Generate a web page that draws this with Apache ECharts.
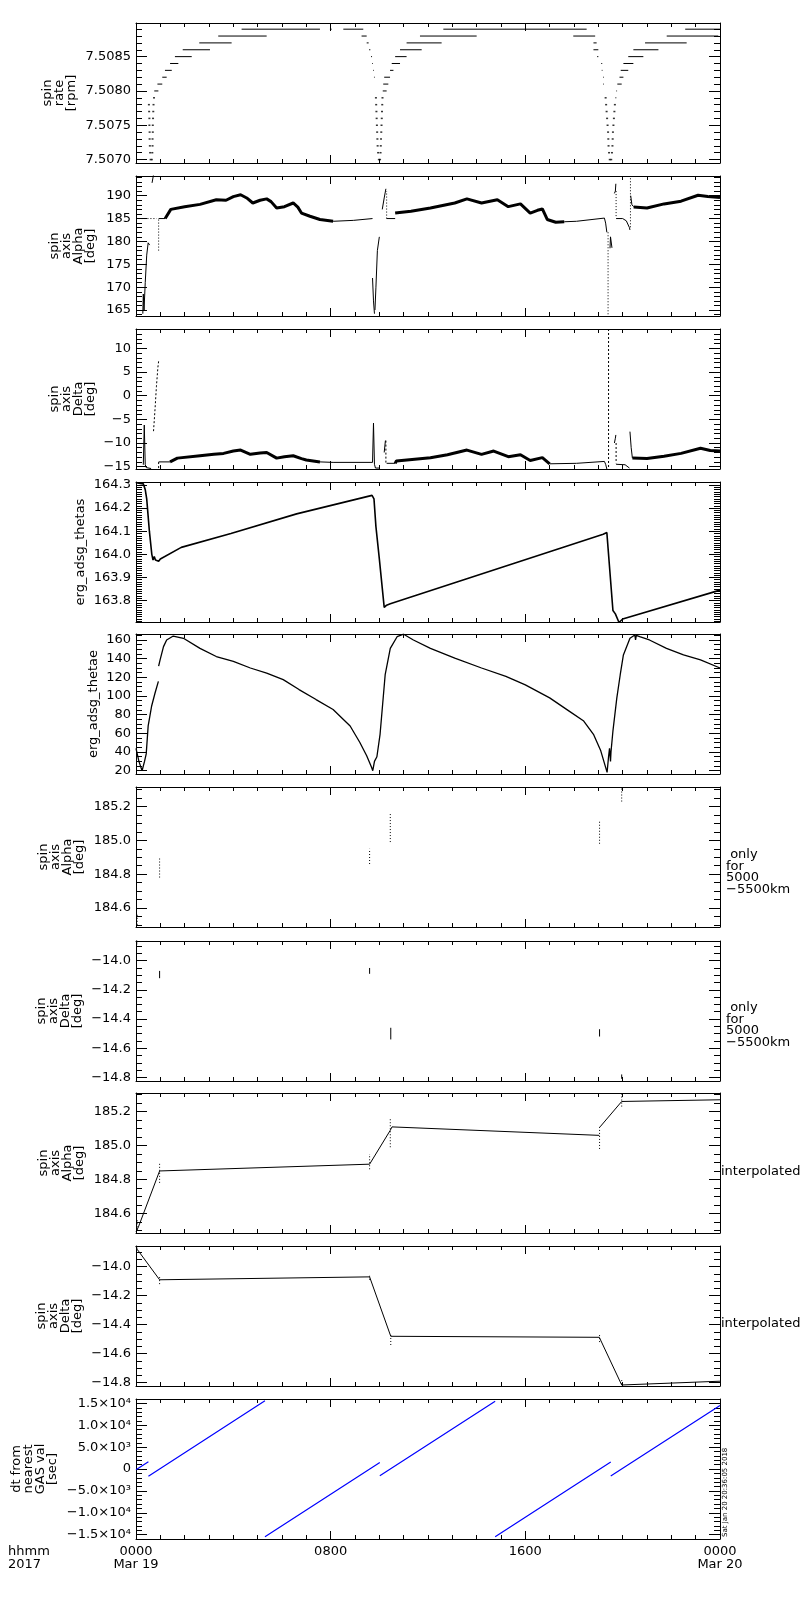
<!DOCTYPE html>
<html>
<head>
<meta charset="utf-8">
<script src="https://cdn.jsdelivr.net/npm/echarts@6/dist/echarts.min.js"></script>
<style>
html, body { margin: 0; padding: 0; background: #fff; }
#main { width: 800px; height: 1600px; }
</style>
</head>
<body>
<div id="main"></div>
<script>
// time axis: hours after 0000 UT Mar 19 2017
var hourTicks = [0, 8, 16, 24];
var hourLabels = ['0000\nMar 19', '0800', '1600', '0000\nMar 20'];

// spin rate [rpm]: quantised steps, [t start, t end, level]
var rateDashes = [
  [0.75,0.92,7.5080],[0.88,1.08,7.5081],[1.08,1.26,7.5082],[1.19,1.47,7.5083],[1.40,1.74,7.5084],
  [1.60,2.29,7.5085],[1.92,3.04,7.5086],[2.60,3.93,7.5087],[3.38,5.37,7.5088],[4.34,7.56,7.5089],
  [7.97,8.04,7.5089],[8.52,9.34,7.5089],
  [9.27,9.48,7.5088],[9.48,9.56,7.5087],[9.58,9.63,7.5086],[9.66,9.70,7.5085],[9.71,9.74,7.5084],
  [9.75,9.78,7.5083],[9.78,9.81,7.5082],[9.81,9.83,7.5081],[9.83,9.85,7.5080],
  [10.14,10.30,7.5080],[10.16,10.37,7.5081],[10.20,10.44,7.5082],[10.44,10.58,7.5083],[10.51,10.85,7.5084],
  [10.65,11.12,7.5085],[10.85,11.74,7.5086],[11.12,12.56,7.5087],[11.67,14.00,7.5088],[12.63,18.52,7.5089],
  [17.97,18.87,7.5088],[18.80,18.93,7.5087],[18.80,19.00,7.5086],[18.95,19.00,7.5085],[19.12,19.16,7.5084],
  [19.14,19.17,7.5083],[19.20,19.23,7.5082],[19.20,19.23,7.5081],[19.26,19.28,7.5080],
  [19.70,19.74,7.5079],[19.74,19.77,7.5080],[19.78,19.96,7.5081],[19.87,20.03,7.5082],[19.92,20.23,7.5083],
  [20.03,20.44,7.5084],[20.23,20.85,7.5085],[20.44,21.47,7.5086],[20.92,22.63,7.5087],[21.81,23.93,7.5088],
  [22.57,24.00,7.5089]
];
var rateDots = [
  [0.53,7.5078],[0.54,7.5077],[0.55,7.5076],[0.55,7.5075],[0.56,7.5074],[0.56,7.5073],[0.57,7.5072],[0.58,7.5071],
  [0.60,7.5070],[0.65,7.5070],[0.67,7.5071],[0.68,7.5072],[0.68,7.5073],[0.69,7.5074],[0.69,7.5075],[0.70,7.5076],
  [0.71,7.5077],[0.72,7.5078],[0.74,7.5079],
  [9.86,7.5079],[9.87,7.5078],[9.88,7.5077],[9.89,7.5076],[9.90,7.5075],[9.91,7.5074],[9.92,7.5073],[9.93,7.5072],
  [9.95,7.5071],[9.98,7.5070],[10.03,7.5070],[10.05,7.5071],[10.06,7.5072],[10.07,7.5073],[10.08,7.5074],
  [10.09,7.5075],[10.10,7.5076],[10.11,7.5077],[10.12,7.5078],[10.13,7.5079],
  [19.30,7.5079],[19.32,7.5078],[19.34,7.5077],[19.36,7.5076],[19.38,7.5075],[19.40,7.5074],[19.41,7.5073],
  [19.42,7.5072],[19.44,7.5071],[19.47,7.5070],[19.53,7.5070],[19.56,7.5071],[19.58,7.5072],[19.59,7.5073],
  [19.60,7.5074],[19.62,7.5075],[19.64,7.5076],[19.66,7.5077],[19.68,7.5078]
];

// spin axis Alpha [deg]; null = break in the trace
var alphaLine = [
  [0.28,164.2],[0.30,168.5],[0.33,165.0],[0.38,171],[0.44,177],[0.50,179.7],[0.56,179.2], null,
  [0.66,192.8],[0.72,194.6], null,
  [0.93,185],[1.2,185], null,
  [8.1,184.4],[8.93,184.6],[9.72,185.0], null,
  [9.72,172],[9.76,167],[9.80,164.2], null,
  [9.82,165],[9.86,170],[9.92,178],[10.0,181], null,
  [10.12,187],[10.2,189.5],[10.27,191.5], null,
  [10.3,185],[10.65,185], null,
  [17.6,184.3],[18.1,184.4],[19.25,185.1],[19.3,184],[19.35,182], null,
  [19.48,178.5],[19.5,181],[19.53,181],[19.56,178.6], null,
  [19.66,190.5],[19.7,191],[19.72,192.6], null,
  [19.73,185],[20.0,185],[20.15,184.5],[20.28,183],[20.3,182.5], null,
  [20.33,190],[20.38,188],[20.45,187.6]
];
var alphaBand = [
  [1.2,185],[1.43,187],[2.0,187.6],[2.63,188.1],[3.3,189.1],[3.7,189.0],[4.0,189.8],[4.3,190.2],
  [4.55,189.5],[4.8,188.4],[5.1,189.0],[5.37,189.3],[5.55,188.7],[5.78,187.3],[6.1,187.6],[6.46,188.4],
  [6.65,187.5],[6.8,186.2],[7.15,185.5],[7.56,184.8],[8.1,184.4], null,
  [10.65,186.2],[11.3,186.6],[12.1,187.3],[13.1,188.4],[13.6,189.3],[14.2,188.4],[14.85,189.1],[15.3,187.6],
  [15.8,188.2],[16.2,186.2],[16.5,186.8],[16.7,187.1],[16.9,184.8],[17.25,184.2],[17.6,184.3], null,
  [20.45,187.5],[21.0,187.3],[21.7,188.2],[22.4,188.8],[23.1,190.1],[23.5,189.8],[24,189.6]
];
var alphaDotted = [
  [0.1,185],[0.85,185], null,
  [0.93,178],[0.93,185], null,
  [10.3,185],[10.3,191], null,
  [19.4,182],[19.4,163.7], null,
  [19.73,191],[19.73,185.5], null,
  [20.32,193.8],[20.32,183]
];

// spin axis Delta [deg]
var deltaLine = [
  [0.30,-14.6],[0.34,-6.2],[0.38,-14.6],[0.42,-15.2],[0.62,-15.4], null,
  [0.93,-14],[1.4,-14], null,
  [7.56,-14.0],[8.1,-14.1],[9.72,-14.1],[9.76,-5.8],[9.80,-14.5],[9.84,-15.3],[10.0,-15.3], null,
  [10.2,-12],[10.25,-9.5], null,
  [10.3,-14.3],[10.65,-14.3], null,
  [17.0,-14.4],[18.1,-14.3],[19.25,-13.9],[19.3,-14.5],[19.35,-15.5], null,
  [19.66,-10],[19.7,-9],[19.72,-8.3], null,
  [19.73,-14.5],[20.1,-14.6],[20.28,-15.3], null,
  [20.3,-7.6],[20.35,-11],[20.4,-13.2]
];
var deltaBand = [
  [1.4,-14],[1.7,-13.2],[2.63,-12.7],[3.2,-12.4],[3.6,-12.2],[4.0,-11.7],[4.3,-11.5],[4.7,-12.4],
  [5.1,-12.1],[5.37,-12.0],[5.78,-13.2],[6.1,-12.9],[6.46,-12.7],[6.8,-13.3],[7.0,-13.6],[7.56,-14.0], null,
  [10.65,-14.3],[10.7,-13.8],[12.1,-13.1],[12.8,-12.5],[13.6,-11.5],[14.2,-12.4],[14.7,-11.7],[15.3,-12.9],
  [15.8,-12.5],[16.2,-13.7],[16.7,-13.1],[17.0,-14.4], null,
  [20.4,-13.2],[21.0,-13.3],[21.7,-12.8],[22.4,-12.2],[23.2,-11.1],[23.6,-11.6],[24,-11.7]
];
var deltaDotted = [
  [0.72,-7.5],[0.78,-3],[0.84,2],[0.9,6],[0.93,7.3], null,
  [0.93,-15.3],[0.93,-13.8], null,
  [10.27,-9.5],[10.27,-14.3], null,
  [19.42,14.1],[19.42,-15.5], null,
  [19.73,-10],[19.73,-14.3]
];

// erg_adsg_thetas
var thetasPts = [
  [0,164.31],[0.3,164.305],[0.38,164.28],[0.44,164.24],[0.55,164.1],[0.65,164.0],[0.7,163.975],[0.75,163.99],
  [0.8,163.975],[0.93,163.97],[1.0,163.98],[1.86,164.03],[3.9,164.09],[6.6,164.175],[9.7,164.255],[9.78,164.24],
  [9.86,164.12],[10.0,163.98],[10.07,163.975],[10.2,163.77],[10.3,163.78],[10.45,163.786],[19.2,164.087],
  [19.35,164.094],[19.6,163.757],[19.65,163.75],[19.7,163.742],[19.85,163.705],[20.0,163.72],[24,163.845]
];

// erg_adsg_thetae
var thetaePts = [
  [0,44],[0.12,30],[0.25,20],[0.35,30],[0.42,38],[0.5,68],[0.64,89],[0.78,103],[0.92,115.7], null,
  [0.93,132],[0.99,138.7],[1.13,152.9],[1.26,160],[1.53,164.2],[1.95,161.8],[2.63,151],[3.3,142.3],[4.0,137],
  [4.7,130],[5.37,124.6],[6.05,117.5],[6.7,106.9],[7.4,96.2],[8.1,85.6],[8.8,67.9],[9.2,50.2],[9.48,36],
  [9.68,23.7],[9.73,20],[9.8,30],[9.9,35],[10.03,59],[10.24,122.8],[10.45,151],[10.73,163.5],[11.0,166.2],
  [11.4,160],[12.1,151],[13.1,140.5],[14.2,130],[15.2,121],[16.0,112],[17.0,98],[17.8,83.8],[18.4,73.2],
  [18.8,59],[19.1,41.3],[19.3,23.6],[19.36,18.3],[19.42,35],[19.46,44],[19.5,30],[19.52,40],[19.6,62.5],
  [19.76,98],[19.9,122.8],[20.03,144],[20.3,161.8],[20.5,165.3],[20.53,160],[20.56,165],[20.7,163.5],
  [21.1,160],[21.8,151],[22.5,144],[23.2,138.7],[24,130]
];

// raw values at 5000-5500 km: [t, low, high]
var gasAlphaMarks = [[0.05,184.50,184.56],[0.97,184.78,184.90],[9.6,184.86,184.95],[10.45,184.99,185.16],[19.05,184.98,185.12],[19.96,185.23,185.31]];
var gasDeltaMarks = [[0.03,-13.89,-13.86],[0.97,-14.12,-14.07],[9.6,-14.09,-14.05],[10.47,-14.54,-14.46],[19.05,-14.52,-14.47],[19.96,-14.81,-14.78]];

// interpolated spin axis
var alphaInterp = [[0,184.49],[0.1,184.52],[0.97,184.85],[9.6,184.89],[10.45,185.09],[10.52,185.11],[19.04,185.06], null,
  [19.07,185.11],[19.96,185.26],[24,185.27]];
var deltaInterp = [[0,-13.86],[0.05,-13.88],[0.97,-14.09],[9.6,-14.07],[10.47,-14.48],[19.04,-14.487],[19.96,-14.816],[24,-14.79]];

// dt from nearest GAS value [sec]
var dtSegments = [[0,-180],[0.51,1650], null, [0.51,-1650],[5.3,15600], null, [5.3,-15500],[10.02,1500], null,
  [10.02,-1550],[14.76,15500], null, [14.76,-15500],[19.51,1580], null, [19.51,-1620],[24,14540]];

// y tick values per panel
var rateTicks = [7.5070, 7.5075, 7.5080, 7.5085];
var alphaTicks = [165, 170, 175, 180, 185, 190];
var deltaTicks = [-15, -10, -5, 0, 5, 10];
var thetasTicks = [163.8, 163.9, 164.0, 164.1, 164.2, 164.3];
var thetaeTicks = [20, 40, 60, 80, 100, 120, 140, 160];
var gasAlphaTicks = [184.6, 184.8, 185.0, 185.2];
var gasDeltaTicks = [-14.8, -14.6, -14.4, -14.2, -14.0];
var dtTicks = [-15000, -10000, -5000, 0, 5000, 10000, 15000];
var dtTickLabels = ['\u22121.5\u00d710\u2074', '\u22121.0\u00d710\u2074', '\u22125.0\u00d710\u00b3', '0',
  '5.0\u00d710\u00b3', '1.0\u00d710\u2074', '1.5\u00d710\u2074'];

// ---- layout ----
var FONT = '"DejaVu Sans", sans-serif';
var panels = [
  {top: 23,   min: 7.50695, max: 7.50899, ticks: rateTicks, minor: 0.0001, dec: 4, title: 'spin\nrate\n[rpm]', tx: 60},
  {top: 176,  min: 163.7, max: 194.3, ticks: alphaTicks, minor: 1, dec: 0, title: 'spin\naxis\nAlpha\n[deg]', tx: 73},
  {top: 329,  min: -15.5, max: 14.1, ticks: deltaTicks, minor: 1, dec: 0, title: 'spin\naxis\nDelta\n[deg]', tx: 73},
  {top: 482,  min: 163.707, max: 164.313, ticks: thetasTicks, minor: 0.01, dec: 1, title: 'erg_adsg_thetas', tx: 81},
  {top: 634,  min: 16.5, max: 166.4, ticks: thetaeTicks, minor: 5, dec: 0, title: 'erg_adsg_thetae', tx: 94},
  {top: 787,  min: 184.487, max: 185.316, ticks: gasAlphaTicks, minor: 0.05, dec: 1, title: 'spin\naxis\nAlpha\n[deg]', tx: 62},
  {top: 941,  min: -14.825, max: -13.865, ticks: gasDeltaTicks, minor: 0.05, dec: 1, title: 'spin\naxis\nDelta\n[deg]', tx: 60},
  {top: 1093, min: 184.484, max: 185.31, ticks: gasAlphaTicks, minor: 0.05, dec: 1, title: 'spin\naxis\nAlpha\n[deg]', tx: 62},
  {top: 1246, min: -14.823, max: -13.857, ticks: gasDeltaTicks, minor: 0.05, dec: 1, title: 'spin\naxis\nDelta\n[deg]', tx: 60},
  {top: 1399, min: -16000, max: 16000, ticks: dtTicks, minor: 1000, labels: dtTickLabels, title: 'dt from\nnearest\nGAS val\n[sec]', tx: 35}
];
var PH = 140;

function withGaps(arr) {
  return arr.map(function (p) { return p === null ? [null, null] : p; });
}
function dashData(list) {
  var out = [];
  list.forEach(function (d) { out.push([d[0], d[2]], [d[1], d[2]], [null, null]); });
  return out;
}
function markData(list) {
  var out = [];
  list.forEach(function (d) { out.push([d[0], d[1]], [d[0], d[2]], [null, null]); });
  return out;
}

var black = '#000';
var grids = [], xAxes = [], yAxes = [], series = [], graphics = [];

panels.forEach(function (p, i) {
  grids.push({left: 136, width: 584, top: p.top, height: PH});
  var last = i === panels.length - 1;
  ['bottom', 'top'].forEach(function (pos) {
    xAxes.push({
      gridIndex: i, type: 'value', position: pos, min: 0, max: 24, interval: 8,
      axisLine: {show: true, onZero: false, lineStyle: {color: black, width: 1}},
      axisTick: {show: true, inside: true, length: 8, lineStyle: {color: black}},
      minorTick: {show: true, splitNumber: 8, length: 4, lineStyle: {color: black}},
      splitLine: {show: false}, minorSplitLine: {show: false},
      axisLabel: {
        show: last && pos === 'bottom', color: black, fontFamily: FONT, fontSize: 13, lineHeight: 13, margin: 6,
        formatter: function (v) { var k = hourTicks.indexOf(v); return k < 0 ? '' : hourLabels[k]; }
      }
    });
  });
  // labelled ticks fall on multiples of step (ticks are not counted from min here)
  var step = p.ticks[1] - p.ticks[0];
  var fmt = p.labels ? function (v) {
    var k = p.ticks.indexOf(Math.round(v)); return k < 0 ? '' : p.labels[k];
  } : function (v) { return v.toFixed(p.dec).replace('-', '\u2212'); };
  ['left', 'right'].forEach(function (pos) {
    yAxes.push({
      gridIndex: i, type: 'value', position: pos, min: p.min, max: p.max,
      minInterval: step, maxInterval: step, splitNumber: 5,
      axisLine: {show: true, onZero: false, lineStyle: {color: black, width: 1}},
      axisTick: {show: true, inside: true, length: 11, lineStyle: {color: black, width: 1}},
      minorTick: {show: true, splitNumber: Math.round(step / p.minor), length: 6, lineStyle: {color: black, width: 1}},
      splitLine: {show: false}, minorSplitLine: {show: false},
      axisLabel: {show: pos === 'left', showMinLabel: false, showMaxLabel: false, formatter: fmt, color: black,
        fontFamily: FONT, fontSize: 13, margin: 5}
    });
  });
  graphics.push({
    type: 'text', x: p.tx, y: p.top + PH / 2, rotation: Math.PI / 2,
    style: {text: p.title, fill: black, font: '13px ' + FONT, align: 'center', verticalAlign: 'middle', lineHeight: 12}
  });
});

function lineSeries(panel, data, color, width, dash) {
  return {
    type: 'line', xAxisIndex: panel * 2, yAxisIndex: panel * 2, data: data,
    showSymbol: false, symbol: 'none', connectNulls: false, silent: true,
    lineStyle: {color: color, width: width, type: dash || 'solid'}
  };
}

series.push(lineSeries(0, dashData(rateDashes), black, 1));
series.push({type: 'scatter', xAxisIndex: 0, yAxisIndex: 0, data: rateDots, symbol: 'rect',
  symbolSize: [2, 1.5], itemStyle: {color: black}, silent: true});
series.push(lineSeries(1, withGaps(alphaBand), black, 3));
series.push(lineSeries(1, withGaps(alphaLine), black, 1));
series.push(lineSeries(1, withGaps(alphaDotted), black, 1, [1, 2]));
series.push(lineSeries(2, withGaps(deltaBand), black, 3));
series.push(lineSeries(2, withGaps(deltaLine), black, 1));
series.push(lineSeries(2, withGaps(deltaDotted), black, 1, [2, 2]));
series.push(lineSeries(3, thetasPts, black, 1.6));
series.push(lineSeries(4, withGaps(thetaePts), black, 1.3));
series.push(lineSeries(5, markData(gasAlphaMarks), black, 1, [1, 2]));
series.push(lineSeries(6, markData(gasDeltaMarks), black, 1));
series.push(lineSeries(7, withGaps(alphaInterp), black, 1));
series.push(lineSeries(7, markData(gasAlphaMarks), black, 1, [1, 2]));
series.push(lineSeries(8, withGaps(deltaInterp), black, 1));
series.push(lineSeries(8, markData(gasDeltaMarks), black, 1, [1, 2]));
series.push(lineSeries(9, withGaps(dtSegments), '#0000ff', 1.2));

var sideNote = ' only\nfor\n5000\n\u22125500km';
graphics.push(
  {type: 'text', x: 726, y: 849, style: {text: sideNote, fill: black, font: '13px ' + FONT, align: 'left', verticalAlign: 'top', lineHeight: 11.5}},
  {type: 'text', x: 726, y: 1002, style: {text: sideNote, fill: black, font: '13px ' + FONT, align: 'left', verticalAlign: 'top', lineHeight: 11.5}},
  {type: 'text', x: 721, y: 1172, style: {text: 'interpolated', fill: black, font: '13px ' + FONT, align: 'left', verticalAlign: 'middle'}},
  {type: 'text', x: 721, y: 1324, style: {text: 'interpolated', fill: black, font: '13px ' + FONT, align: 'left', verticalAlign: 'middle'}},
  {type: 'text', x: 8, y: 1545, style: {text: 'hhmm\n2017', fill: black, font: '13px ' + FONT, align: 'left', verticalAlign: 'top', lineHeight: 13}},
  {type: 'text', x: 725, y: 1537, rotation: Math.PI / 2,
    style: {text: 'Sat Jan 20 20:36:05 2018', fill: black, font: '7px ' + FONT, align: 'left', verticalAlign: 'middle'}}
);

var chart = echarts.init(document.getElementById('main'), null, {renderer: 'canvas'});
chart.setOption({
  backgroundColor: '#fff',
  animation: false,
  grid: grids,
  xAxis: xAxes,
  yAxis: yAxes,
  series: series,
  graphic: graphics
});
</script>
</body>
</html>
